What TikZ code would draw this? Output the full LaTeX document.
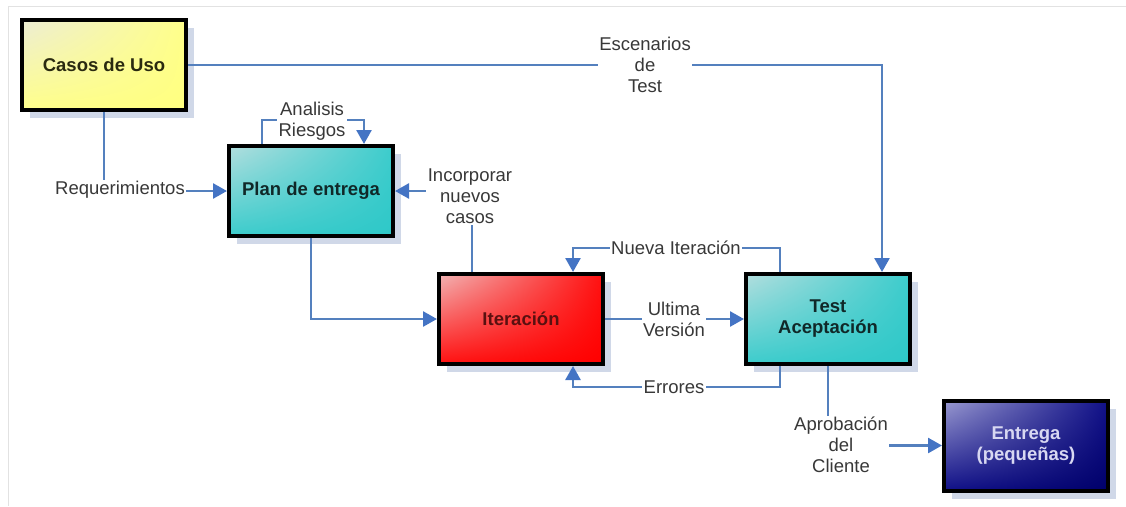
\documentclass[tikz,border=0pt]{standalone}
\usepackage{fontspec}
\setmainfont{Liberation Sans}
\usetikzlibrary{arrows.meta,shadows,shadings,calc}
\definecolor{flow}{HTML}{5480BE}
\definecolor{tipc}{HTML}{4474C4}
\definecolor{labc}{HTML}{383838}
\definecolor{framec}{HTML}{E2E2E2}
\definecolor{shadowc}{HTML}{D0D8E8}
% box fills: light corner, main tone, deep corner, text
\definecolor{yelL}{HTML}{EDEDD4}\definecolor{yelM}{HTML}{FFFF8A}\definecolor{yelD}{HTML}{FFFF80}\definecolor{yelT}{HTML}{2A2A10}
\definecolor{tealL}{HTML}{B2DEDE}\definecolor{tealM}{HTML}{3CCCCC}\definecolor{tealD}{HTML}{2EC8C8}\definecolor{tealT}{HTML}{102828}
\definecolor{redL}{HTML}{F2B4B4}\definecolor{redM}{HTML}{FF1010}\definecolor{redD}{HTML}{FF0000}\definecolor{redT}{HTML}{5A1010}
\definecolor{navL}{HTML}{9A9AD0}\definecolor{navM}{HTML}{101088}\definecolor{navD}{HTML}{00006A}\definecolor{navT}{HTML}{D8D8F2}
\begin{document}
\begin{tikzpicture}[x=1pt,y=-1pt,
  box/.style={draw=black, line width=4pt, minimum width=164pt, minimum height=90pt,
    align=center, inner sep=2pt, font=\bfseries\fontsize{18.5}{21}\selectfont,
    general shadow={fill=shadowc, shadow xshift=8pt, shadow yshift=-8pt}},
  yellowbox/.style={box, upper left=yelL, upper right=yelM,
    lower left=yelM, lower right=yelD, text=yelT},
  tealbox/.style={box, upper left=tealL, upper right=tealM,
    lower left=tealM, lower right=tealD, text=tealT},
  redbox/.style={box, upper left=redL, upper right=redM,
    lower left=redM, lower right=redD, text=redT},
  navybox/.style={box, upper left=navL, upper right=navM,
    lower left=navM, lower right=navD, text=navT},
  flowline/.style={draw=flow, line width=2.6pt},
  flowarrow/.style={flowline, -{Triangle[width=15pt,length=14pt,color=tipc]}},
  lab/.style={fill=white, inner sep=1.5pt, align=center, text=labc,
    font=\fontsize{18.5}{21}\selectfont}]
\useasboundingbox (0,0) rectangle (1126,506);

% page frame
\draw[framec, line width=1.2pt] (8.5,506) -- (8.5,6.5) -- (1126,6.5);

% process boxes
\node[yellowbox] (casos)   at (104,65)    {Casos de Uso};
\node[tealbox]   (plan)    at (311,191)   {Plan de entrega};
\node[redbox]    (iter)    at (521,319)   {Iteración};
\node[tealbox]   (test)    at (828,319)   {Test\\Aceptación};
\node[navybox]   (entrega) at (1026,445.5) {Entrega\\(pequeñas)};

% connectors
\draw[flowarrow] (casos.east) -| ([xshift=54pt]test.north);
\draw[flowarrow] (casos.south) |- (plan.west);
\draw[flowarrow] ([xshift=-49pt]plan.north) -- ++(0,-24) -| ([xshift=53pt]plan.north);
\draw[flowarrow] ([xshift=-49pt]iter.north) |- (plan.east);
\draw[flowarrow] (plan.south) |- (iter.west);
\draw[flowarrow] (iter.east) -- (test.west);
\draw[flowarrow] ([xshift=-48pt]test.north) -- ++(0,-24) -| ([xshift=52pt]iter.north);
\draw[flowarrow] ([xshift=-48pt]test.south) -- ++(0,21) -| ([xshift=52pt]iter.south);
\draw[flowarrow] (test.south) |- (entrega.west);

% connector labels
\node[lab] (esc) at (645,65)  {Escenarios\\de\\Test};
\node[lab] (req) at (120,190) {Requerimientos};
\node[lab] (ana) at (312,121) {Analisis\\Riesgos};
\node[lab] (inc) at (470,196) {Incorporar\\nuevos\\casos};
\node[lab] (ult) at (674,319) {Ultima\\Versión};
\node[lab] (nue) at (676,248) {Nueva Iteración};
\node[lab] (err) at (674,387) {Errores};
\node[lab] (apr) at (841,445) {Aprobación\\del\\Cliente};
\end{tikzpicture}
\end{document}
